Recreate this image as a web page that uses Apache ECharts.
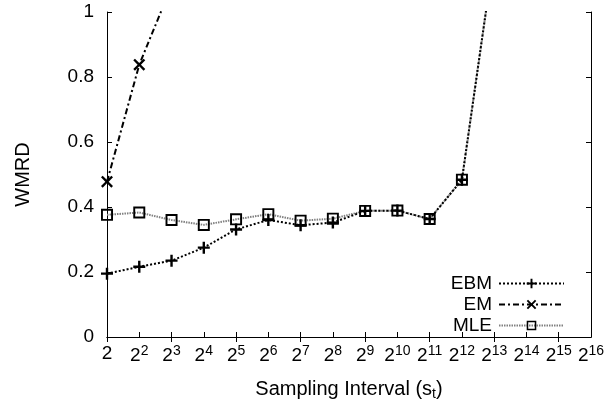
<!DOCTYPE html>
<html>
<head>
<meta charset="utf-8">
<script src="https://cdn.jsdelivr.net/npm/echarts@6/dist/echarts.min.js"></script>
<style>
  html, body { margin: 0; padding: 0; background: #fff; }
  #chart { width: 608px; height: 408px; }
</style>
</head>
<body>
<div id="chart"></div>
<script>
// x categories are powers of two, stored as exponents
const exponents = [1, 2, 3, 4, 5, 6, 7, 8, 9, 10, 11, 12, 13, 14, 15, 16]
const categories = exponents.map(e => '2^' + e)
const yTicks = [0, 0.2, 0.4, 0.6, 0.8, 1]

// values (points above 1 are clipped by the axis)
const ebm = [0.195, 0.216, 0.235, 0.275, 0.331, 0.36, 0.344, 0.352, 0.388, 0.389, 0.363, 0.484, 1.18]
const em = [0.478, 0.838, 1.08]
const mle = [0.376, 0.383, 0.36, 0.345, 0.362, 0.378, 0.358, 0.364, 0.388, 0.389, 0.363, 0.484, 1.18]

const FONT = 'Liberation Sans'
const plusPath = 'path://M4,0H6V4H10V6H6V10H4V6H0V4H4Z'
const crossPath = 'path://M0,1.4L1.4,0L5,3.6L8.6,0L10,1.4L6.4,5L10,8.6L8.6,10L5,6.4L1.4,10L0,8.6L3.6,5Z'
const squarePath = 'path://M0,0H10V10H0Z M1.6,1.6V8.4H8.4V1.6Z'

const chart = echarts.init(document.getElementById('chart'))

function legendFor (name, top) {
  return {
    data: [name],
    right: 43,
    top: top,
    padding: 0,
    align: 'right',
    itemWidth: 65,
    itemHeight: 12,
    itemGap: 0,
    selectedMode: false,
    textStyle: { fontFamily: FONT, fontSize: 19, color: '#000', padding: [0, 2, 0, 0] }
  }
}

const option = {
  animation: false,
  backgroundColor: '#fff',
  grid: { left: 107, right: 17, top: 12, bottom: 71 },
  legend: [
    legendFor('EBM', 274),
    legendFor('EM', 295),
    legendFor('MLE', 316)
  ],
  xAxis: [
    {
      type: 'category',
      data: categories,
      boundaryGap: false,
      name: '{a|Sampling Interval (s}{sub|t}{a|)}',
      nameLocation: 'middle',
      nameGap: 41,
      nameTextStyle: {
        rich: {
          a: { fontFamily: FONT, fontSize: 20, color: '#000' },
          sub: { fontFamily: FONT, fontSize: 14, color: '#000', padding: [9, 0, 0, 0] }
        }
      },
      axisLine: { lineStyle: { color: '#000', width: 1 } },
      axisTick: { inside: true, length: 5, alignWithLabel: true, lineStyle: { color: '#000' } },
      axisLabel: {
        interval: 0,
        margin: 7,
        formatter: v => {
          const e = v.split('^')[1]
          return e === '1' ? '{a|2}' : '{a|2}{sup|' + e + '}'
        },
        rich: {
          a: { fontFamily: FONT, fontSize: 19, color: '#000' },
          sup: { fontFamily: FONT, fontSize: 14, color: '#000', padding: [0, 0, 10, 0] }
        }
      },
      splitLine: { show: false }
    },
    {
      type: 'category',
      data: categories,
      boundaryGap: false,
      position: 'top',
      axisLine: { lineStyle: { color: '#000', width: 1 } },
      axisTick: { inside: true, length: 5, lineStyle: { color: '#000' } },
      axisLabel: { show: false },
      splitLine: { show: false }
    }
  ],
  yAxis: [
    {
      type: 'value',
      min: yTicks[0],
      max: yTicks[yTicks.length - 1],
      interval: 0.2,
      name: 'WMRD',
      nameLocation: 'middle',
      nameGap: 74,
      nameTextStyle: { fontFamily: FONT, fontSize: 20, color: '#000' },
      axisLine: { show: true, lineStyle: { color: '#000', width: 1 } },
      axisTick: { show: true, inside: true, length: 5, lineStyle: { color: '#000' } },
      axisLabel: { margin: 13, fontFamily: FONT, fontSize: 19, color: '#000' },
      splitLine: { show: false }
    },
    {
      type: 'value',
      min: yTicks[0],
      max: yTicks[yTicks.length - 1],
      interval: 0.2,
      position: 'right',
      axisLine: { show: true, lineStyle: { color: '#000', width: 1 } },
      axisTick: { show: true, inside: true, length: 5, lineStyle: { color: '#000' } },
      axisLabel: { show: false },
      splitLine: { show: false }
    }
  ],
  series: [
    {
      name: 'MLE',
      type: 'line',
      data: mle,
      symbol: squarePath,
      symbolSize: 12,
      showAllSymbol: true,
      clip: true,
      itemStyle: { color: '#000' },
      lineStyle: { color: '#808080', width: 2, type: [1.5, 1] }
    },
    {
      name: 'EM',
      type: 'line',
      data: em,
      symbol: crossPath,
      symbolSize: 12,
      clip: true,
      itemStyle: { color: '#000' },
      lineStyle: { color: '#000', width: 2, type: [6, 3, 2, 3] }
    },
    {
      name: 'EBM',
      type: 'line',
      data: ebm,
      symbol: plusPath,
      symbolSize: 12,
      clip: true,
      itemStyle: { color: '#000' },
      lineStyle: { color: '#000', width: 2, type: [2, 2] }
    }
  ]
}

chart.setOption(option)
</script>
</body>
</html>
